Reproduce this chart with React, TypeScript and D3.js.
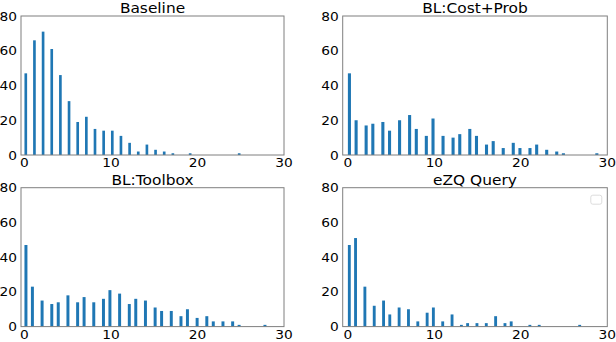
import React, { useEffect, useRef } from 'react';
import * as d3 from 'd3';

// counts per score value (index = value)
const baselineCounts = [47, 66, 71, 61, 46, 31, 19, 22, 15, 14, 14, 11, 7, 2, 6, 3, 2, 1, 0, 1, 0, 0, 0, 0, 0, 1];
const costProbCounts = [47, 20, 17, 18, 19, 14, 20, 23, 15, 11, 21, 11, 10, 12, 15, 11, 6, 8, 4, 7, 4, 4, 6, 3, 2, 1, 0, 0, 0, 1];
const toolboxCounts = [47, 23, 15, 13, 14, 18, 14, 17, 14, 16, 21, 19, 13, 16, 15, 11, 9, 9, 6, 10, 5, 6, 3, 3, 3, 1, 0, 0, 1];
const ezqCounts = [47, 51, 23, 12, 15, 7, 11, 10, 3, 8, 11, 3, 7, 1, 2, 2, 2, 6, 2, 3, 0, 1, 1, 0, 0, 0, 0, 1];

const titles = ['Baseline', 'BL:Cost+Prob', 'BL:Toolbox', 'eZQ Query'];
const xTicks = [0, 10, 20, 30];
const yTicks = [0, 20, 40, 60, 80];
const nBins = 75;

const App = () => {
  const svgRef = useRef(null);

  useEffect(() => {
    const svg = d3.select(svgRef.current);
    svg.selectAll('*').remove();

    const font = 'DejaVu Sans, sans-serif';
    const color = '#1f77b4';
    const stretch = 1.1; // the reference text is slightly wide

    const panels = [
      { counts: baselineCounts, left: 21, right: 284, top: 16, bottom: 155, xMin: -0.4 },
      { counts: costProbCounts, left: 342.7, right: 607.3, top: 16, bottom: 155, xMin: -0.6 },
      { counts: toolboxCounts, left: 21, right: 284, top: 187.7, bottom: 326.6, xMin: -0.4 },
      { counts: ezqCounts, left: 342.7, right: 607.3, top: 187.7, bottom: 326.6, xMin: -0.6 },
    ];

    const label = (g, tx, ty, txt, size, anchor, dy = '0') =>
      g.append('text')
        .attr('transform', `translate(${tx},${ty}) scale(${stretch},1)`)
        .attr('dy', dy)
        .attr('text-anchor', anchor)
        .style('font-family', font)
        .style('font-size', size)
        .style('fill', '#000')
        .text(txt);

    panels.forEach((p, i) => {
      const g = svg.append('g');
      const x = d3.scaleLinear().domain([p.xMin, 30]).range([p.left, p.right]);
      const y = d3.scaleLinear().domain([0, 80]).range([p.bottom, p.top]);

      // histogram bins like matplotlib: 75 bins over [0, max value]
      const maxVal = p.counts.length - 1;
      const edges = d3.range(nBins + 1).map(j => (j * maxVal) / nBins);
      const w = maxVal / nBins;
      const bars = p.counts
        .map((c, k) => {
          const idx = Math.min(d3.bisectRight(edges, k) - 1, nBins - 1);
          return { x0: edges[idx], count: c };
        })
        .filter(d => d.count > 0);

      g.selectAll('rect.bar')
        .data(bars)
        .enter()
        .append('rect')
        .attr('class', 'bar')
        .attr('x', d => x(d.x0))
        .attr('y', d => y(d.count))
        .attr('width', x(w * 0.92) - x(0))
        .attr('height', d => y(0) - y(d.count))
        .style('fill', color);

      // frame
      g.append('rect')
        .attr('x', p.left)
        .attr('y', p.top)
        .attr('width', p.right - p.left)
        .attr('height', p.bottom - p.top)
        .style('fill', 'none')
        .style('stroke', '#7f7f7f')
        .style('stroke-width', 1);

      xTicks.forEach(t => label(g, x(t), p.bottom + 12, t, '12.5px', 'middle'));
      yTicks.forEach(t => label(g, p.left - 4, y(t), t, '12.5px', 'end', '0.36em'));
      label(g, (p.left + p.right) / 2, p.top - 3.2, titles[i], '14px', 'middle');

      // empty legend box (last panel only)
      if (i === 3) {
        g.append('rect')
          .attr('x', p.right - 16.5)
          .attr('y', p.top + 7.5)
          .attr('width', 11)
          .attr('height', 9)
          .attr('rx', 2)
          .style('fill', '#fff')
          .style('stroke', '#dcdcdc')
          .style('stroke-width', 1);
      }
    });
  }, []);

  return (
    <svg
      ref={svgRef}
      width={616}
      height={342}
      style={{ position: 'absolute', left: 0, top: 0, background: '#fff' }}
    ></svg>
  );
};

export default App;
